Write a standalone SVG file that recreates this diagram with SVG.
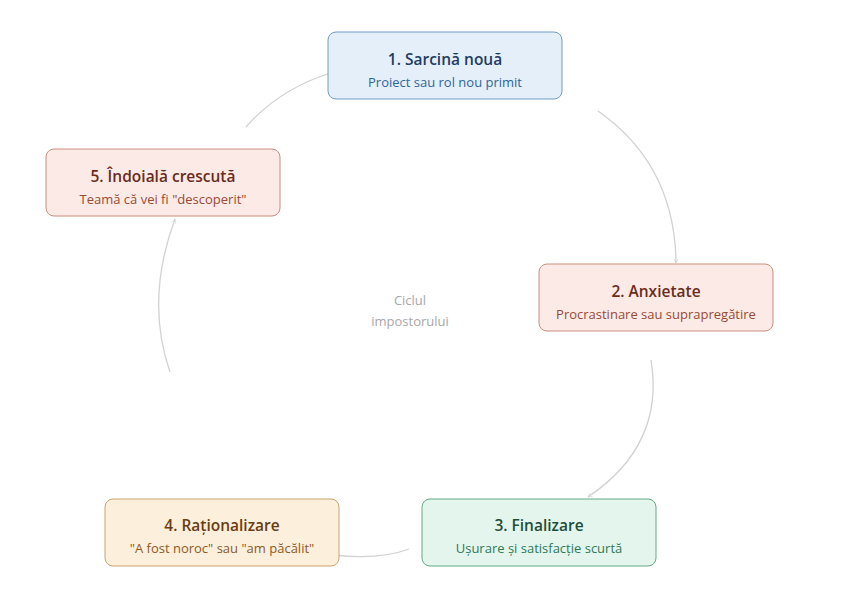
<svg xmlns="http://www.w3.org/2000/svg" width="853" height="596" viewBox="0 0 853 596">
<defs>
<style>
.t{font-family:"Open Sans","Noto Sans","Liberation Sans",sans-serif;font-size:15.5px;font-weight:600;text-anchor:middle}
.s{font-family:"Open Sans","Noto Sans","Liberation Sans",sans-serif;font-size:13px;text-anchor:middle}
.c{font-family:"Open Sans","Noto Sans","Liberation Sans",sans-serif;font-size:13px;text-anchor:middle;fill:#a8a8a8}
.e{fill:none;stroke:#d2d2d2;stroke-width:1.3}
</style>
<marker id="ah" viewBox="0 0 10 10" refX="9" refY="5" markerWidth="4" markerHeight="4" orient="auto"><path d="M1,1 L9,5 L1,9" fill="none" stroke="#d0d0d0" stroke-width="1.2"/></marker>
</defs>
<rect width="853" height="596" fill="#ffffff"/>
<text class="c" x="410" y="305">Ciclul</text>
<text class="c" x="410" y="326">impostorului</text>
<g id="connectors">
<path class="e" d="M598,111 Q675,165 676,263" marker-end="url(#ah)"/>
<path class="e" d="M651,360 Q665,445 588,497" marker-end="url(#ah)"/>
<path class="e" d="M409,549 Q380,560 333,555" marker-end="url(#ah)"/>
<path class="e" d="M170,372 Q145,300 175,219" marker-end="url(#ah)"/>
<path class="e" d="M246,127 Q280,88 334,72" marker-end="url(#ah)"/>
</g>
<g id="node1">
<rect x="328" y="32" width="234" height="67" rx="8" fill="#e4effa" stroke="#6f9cc8"/>
<text class="t" x="445" y="65" fill="#1e3c63">1. Sarcină nouă</text>
<text class="s" x="445" y="87" fill="#2f6599">Proiect sau rol nou primit</text>
</g>
<g id="node2">
<rect x="539" y="264" width="234" height="67" rx="8" fill="#fbeae5" stroke="#c88f7d"/>
<text class="t" x="656" y="297" fill="#6a2c1c">2. Anxietate</text>
<text class="s" x="656" y="319" fill="#9a4b36">Procrastinare sau suprapregătire</text>
</g>
<g id="node3">
<rect x="422" y="499" width="234" height="67" rx="8" fill="#e4f5ed" stroke="#62aa85"/>
<text class="t" x="539" y="531" fill="#1e4d38">3. Finalizare</text>
<text class="s" x="539" y="553" fill="#2e7a55">Ușurare și satisfacție scurtă</text>
</g>
<g id="node4">
<rect x="105" y="499" width="234" height="67" rx="8" fill="#fcefdc" stroke="#cca36e"/>
<text class="t" x="222" y="531" fill="#6a3d12">4. Raționalizare</text>
<text class="s" x="222" y="553" fill="#8c5a26">"A fost noroc" sau "am păcălit"</text>
</g>
<g id="node5">
<rect x="46" y="149" width="234" height="67" rx="8" fill="#fbeae5" stroke="#c88f7d"/>
<text class="t" x="163" y="182" fill="#6a2c1c">5. Îndoială crescută</text>
<text class="s" x="163" y="204" fill="#9a4b36">Teamă că vei fi "descoperit"</text>
</g>
</svg>
